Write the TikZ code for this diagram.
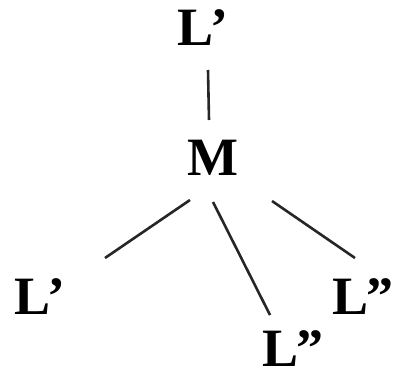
\documentclass[tikz,border=0pt]{standalone}
\usepackage{fontspec}
\setmainfont{Liberation Serif}
\usetikzlibrary{calc}
\begin{document}
\begin{tikzpicture}[x=1pt,y=-1pt,
  lbl/.style={inner sep=0pt,font=\fontsize{54}{54}\selectfont\bfseries},
  conn/.style={line width=2.6pt,draw=black!85}]
\useasboundingbox (0,0) rectangle (394,375);
\node[lbl] (L0) at (203,28) {L\kern-3pt’};
\node[lbl] (M)  at (213,158) {M};
\node[lbl] (L1) at (40,297) {L\kern-3pt’};
\node[lbl] (L2) at (363,297) {L\kern-3pt”};
\node[lbl] (L3) at (293,349) {L\kern-3pt”};
\draw[conn] ($(L0)+(5,42)$) -- ($(M)+(-4,-38)$);
\draw[conn] ($(M)+(-23,42)$) -- ($(L1)+(65,-39)$);
\draw[conn] ($(M)+(0,44)$) -- ($(L3)+(-23,-34)$);
\draw[conn] ($(M)+(59,43)$) -- ($(L2)+(-8,-39)$);
\end{tikzpicture}
\end{document}
